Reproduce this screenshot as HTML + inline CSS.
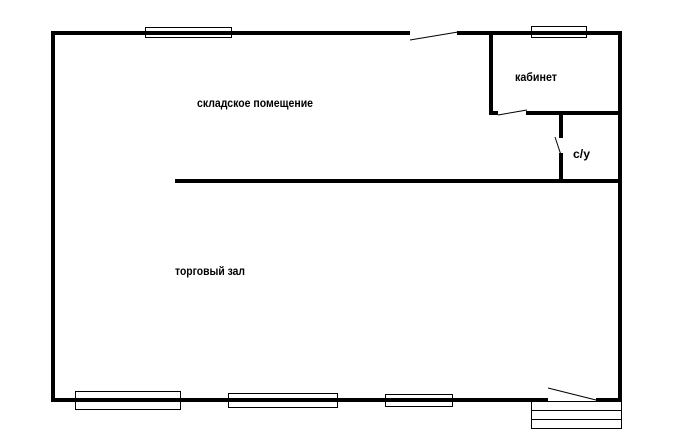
<!DOCTYPE html>
<html><head><meta charset="utf-8"><style>html,body{margin:0;padding:0;background:#fff}svg{display:block}</style></head>
<body>
<svg width="683" height="444" viewBox="0 0 683 444" xmlns="http://www.w3.org/2000/svg">
<rect width="683" height="444" fill="#fff"/>
<g stroke="#000" stroke-width="4" fill="none" stroke-linecap="square">
<path d="M408 33 H53 V400 H546"/>
<path d="M598 400 H620 V33 H459"/>
<path d="M491 33 V113 H496"/>
<path d="M528 113 H620"/>
<path d="M561 113 V136"/>
<path d="M561 155 V181"/>
<path d="M177 181 H620"/>
</g>
<g stroke="#000" stroke-width="1" fill="none">
<line x1="410" y1="40" x2="458" y2="32"/>
<line x1="498" y1="115" x2="527" y2="110"/>
<line x1="555" y1="137" x2="561" y2="155"/>
<line x1="548" y1="388" x2="596" y2="400"/>
<rect x="145.5" y="27.5" width="86" height="10"/>
<rect x="531.5" y="26.5" width="55" height="11"/>
<rect x="75.5" y="391.5" width="105" height="18"/>
<rect x="228.5" y="393.5" width="109" height="14"/>
<rect x="385.5" y="394.5" width="67" height="12"/>
<rect x="531.5" y="401.5" width="90" height="27"/>
<line x1="531" y1="410.5" x2="621" y2="410.5"/>
<line x1="531" y1="419.5" x2="621" y2="419.5"/>
</g>
<g font-family="Liberation Sans, sans-serif" font-size="12" font-weight="bold" fill="#000">
<text x="197" y="107" textLength="116" lengthAdjust="spacingAndGlyphs">складское помещение</text>
<text x="515" y="81" textLength="42" lengthAdjust="spacingAndGlyphs">кабинет</text>
<text x="573" y="158" textLength="17" lengthAdjust="spacingAndGlyphs">с/у</text>
<text x="175" y="275" textLength="70" lengthAdjust="spacingAndGlyphs">торговый зал</text>
</g>
</svg>
</body></html>
